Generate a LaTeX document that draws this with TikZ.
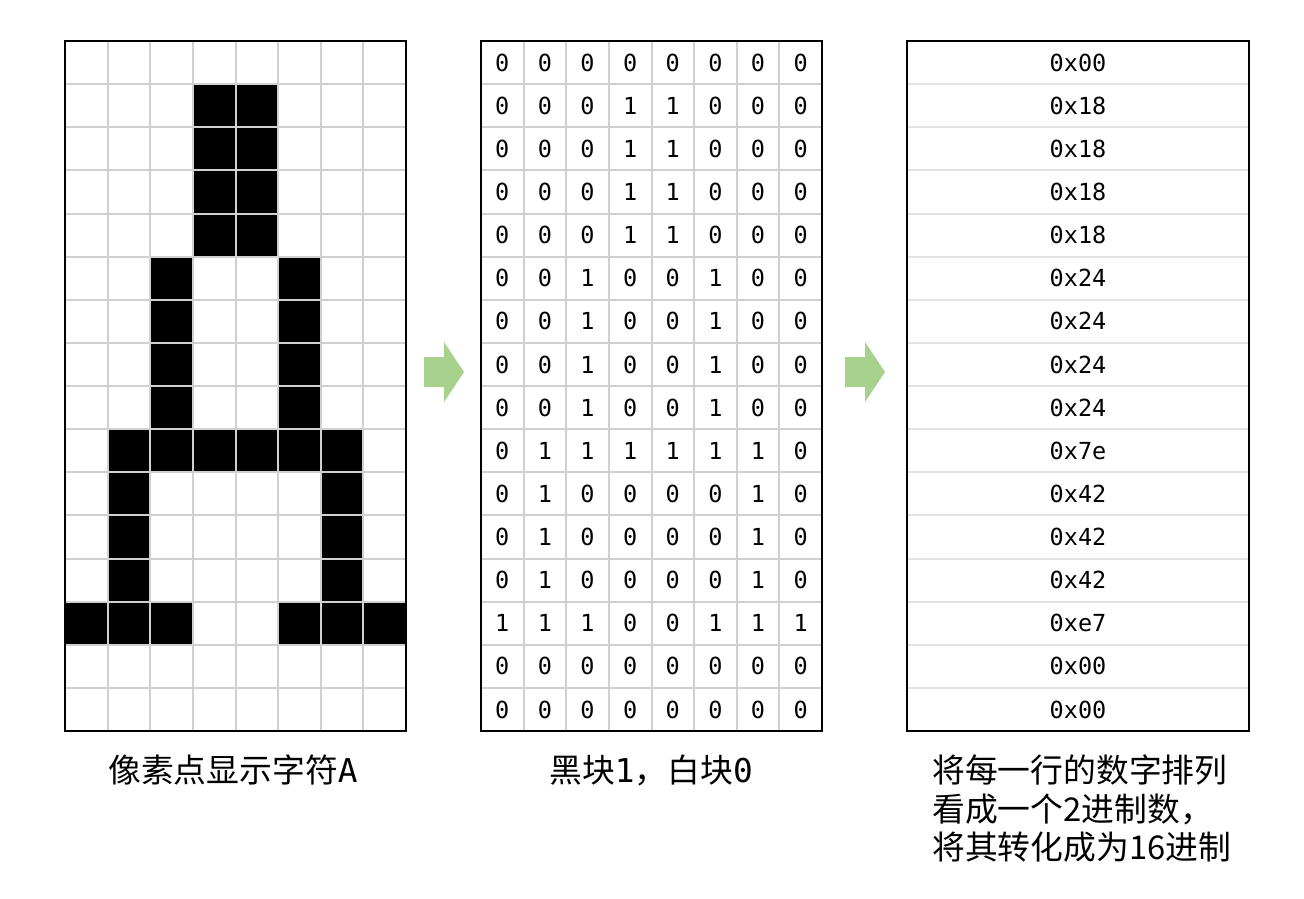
\documentclass[tikz,border=0pt]{standalone}
\usepackage{fontspec}
\setmonofont{DejaVu Sans Mono}
\newfontfamily\cjk{Noto Sans CJK SC}
\definecolor{gridgray}{HTML}{D0D0D0}
\definecolor{rowgray}{HTML}{E2E2E2}
\definecolor{arrowgreen}{HTML}{A9D18E}

\tikzstyle{gridline} = [draw=gridgray,line width=2pt]
\tikzstyle{rowline} = [draw=rowgray,line width=2pt]
\tikzstyle{frame} = [draw=black,line width=1.6pt]
\tikzstyle{bit} = [font=\ttfamily\fontsize{23.5}{23.5}\selectfont,inner sep=0pt]
\tikzstyle{caption} = [font=\cjk\fontsize{32.8}{38.5}\selectfont,inner sep=0pt]

\begin{document}
\begin{tikzpicture}[x=1pt,y=-1pt]
      \useasboundingbox (0,0) rectangle (1304,898);
      \def\cw{42.625}
      \def\rh{43.125}
      %% black pixels, bits and hex values
      \foreach \r/\bits/\hex in {0/{0,0,0,0,0,0,0,0}/00, 1/{0,0,0,1,1,0,0,0}/18,
        2/{0,0,0,1,1,0,0,0}/18, 3/{0,0,0,1,1,0,0,0}/18, 4/{0,0,0,1,1,0,0,0}/18,
        5/{0,0,1,0,0,1,0,0}/24, 6/{0,0,1,0,0,1,0,0}/24, 7/{0,0,1,0,0,1,0,0}/24,
        8/{0,0,1,0,0,1,0,0}/24, 9/{0,1,1,1,1,1,1,0}/7e, 10/{0,1,0,0,0,0,1,0}/42,
        11/{0,1,0,0,0,0,1,0}/42, 12/{0,1,0,0,0,0,1,0}/42, 13/{1,1,1,0,0,1,1,1}/e7,
        14/{0,0,0,0,0,0,0,0}/00, 15/{0,0,0,0,0,0,0,0}/00}
      {
        \foreach \b [count=\c from 0] in \bits
        {
          \ifnum\b=1
            \fill[black] (65+\c*\cw,41+\r*\rh) rectangle +(\cw,\rh);
          \fi
          \node[bit] (bit-\r-\c) at (481+\c*\cw+\cw/2,41+\r*\rh+\rh/2) {\b};
        }
        \node[bit] (hex-\r) at (1078,41+\r*\rh+\rh/2) {0x\hex};
      }
      %% grid lines
      \foreach \left in {65,481}
      {
        \foreach \i in {1,...,7}
          \draw[gridline] (\left+\i*\cw,41) -- (\left+\i*\cw,731);
        \foreach \j in {1,...,15}
          \draw[gridline] (\left,41+\j*\rh) -- (\left+341,41+\j*\rh);
        \draw[frame] (\left,41) rectangle (\left+341,731);
      }
      \foreach \j in {1,...,15}
        \draw[rowline] (907,41+\j*\rh) -- (1249,41+\j*\rh);
      \draw[frame] (907,41) rectangle (1249,731);
      %% arrows
      \foreach \x in {424,845}
        \fill[arrowgreen] (\x,357) -- (\x+20,357) -- (\x+20,342) -- (\x+40,372)
          -- (\x+20,402) -- (\x+20,387) -- (\x,387) -- cycle;
      %% captions
      \node[caption] (capPixel) at (233,770) {像素点显示字符\texttt{A}};
      \node[caption] (capBits) at (651,770) {黑块\texttt{1}，白块\texttt{0}};
      \node[caption,anchor=west,align=left] (capHex) at (932,809)
        {将每一行的数字排列\\看成一个2进制数，\\将其转化成为16进制};
    \end{tikzpicture}
\end{document}
